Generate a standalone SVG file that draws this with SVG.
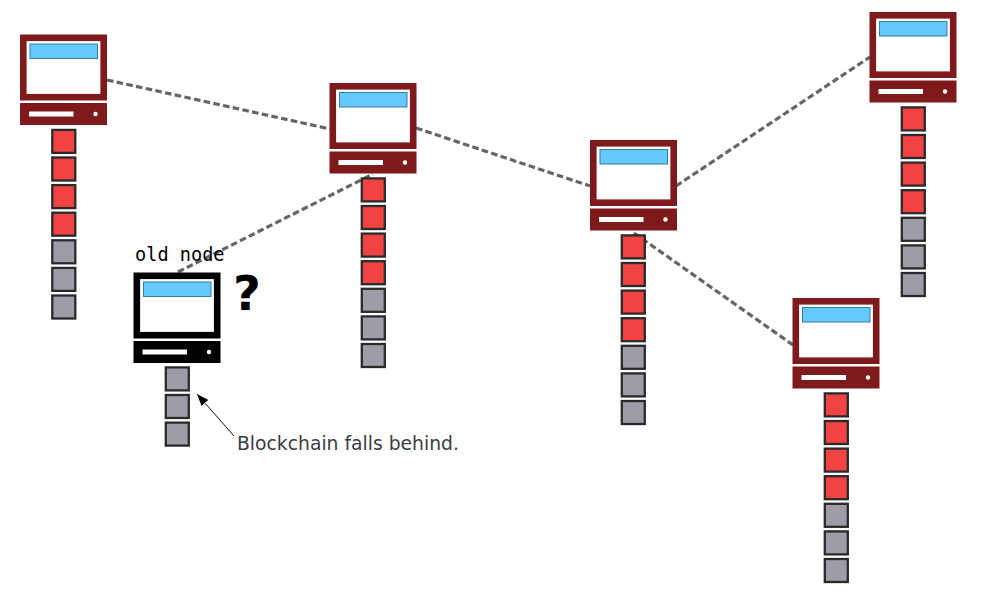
<svg xmlns="http://www.w3.org/2000/svg" xmlns:xlink="http://www.w3.org/1999/xlink" width="983" height="601" viewBox="0 0 983 601">
<style>
.frame{fill:#fff;stroke:currentColor;stroke-width:6.6}
.base{stroke:none;fill:currentColor}
.red{color:#7f1a1c}
.black{color:#000}
.screen{fill:#66c8ff;stroke:#2f7fa6;stroke-width:1}
.w{fill:#fff}
.r{fill:#f24343;stroke:#2a2a2a;stroke-width:2.3}
.g{fill:#9d9da8;stroke:#2a2a2a;stroke-width:2.3}
.link{fill:none;stroke:#666;stroke-width:3.2;stroke-dasharray:6.6 3.3}
</style>
<defs>
<g id="pc">
<rect class="frame" x="3.3" y="3.3" width="80.4" height="59.4"/>
<rect class="screen" x="10" y="9.5" width="67.5" height="14.5"/>
<rect class="base" x="0" y="68.5" width="87" height="22"/>
<rect class="w" x="9" y="77" width="44.5" height="5"/>
<circle class="w" cx="75.5" cy="79.5" r="2.2"/>
</g>
<rect id="rb" class="r" x="1.2" y="1.2" width="23" height="23"/>
<rect id="gb" class="g" x="1.2" y="1.2" width="23" height="23"/>
<g id="chain">
<use xlink:href="#rb" y="0"/><use xlink:href="#rb" y="27.6"/><use xlink:href="#rb" y="55.2"/><use xlink:href="#rb" y="82.8"/>
<use xlink:href="#gb" y="110.4"/><use xlink:href="#gb" y="138"/><use xlink:href="#gb" y="165.6"/>
</g>
<marker id="ah" markerWidth="14" markerHeight="10" refX="12" refY="4.5" orient="auto" markerUnits="userSpaceOnUse"><path d="M0 0L12 4.5L0 9Z" fill="#000"/></marker>
</defs>
<g id="connectors">
<path class="link" d="M107 80L330 129"/>
<path class="link" d="M416 128L590 186"/>
<path class="link" d="M676 186L870 57"/>
<path class="link" d="M634 233L793 345"/>
<path class="link" d="M178 272L373 174"/>
<path d="M234 436L197 394" fill="none" stroke="#111" stroke-width="1" marker-end="url(#ah)"/>
</g>
<g id="node1" class="red"><use xlink:href="#pc" x="20" y="34.5"/><use xlink:href="#chain" x="51.1" y="128.7"/></g>
<g id="node2" class="red"><use xlink:href="#pc" x="329.5" y="83"/><use xlink:href="#chain" x="360.6" y="177.2"/></g>
<g id="node3" class="red"><use xlink:href="#pc" x="590" y="140"/><use xlink:href="#chain" x="620.6" y="234.2"/></g>
<g id="node4" class="red"><use xlink:href="#pc" x="869.5" y="12"/><use xlink:href="#chain" x="900.6" y="106.2"/></g>
<g id="node5" class="red"><use xlink:href="#pc" x="792.5" y="298"/><use xlink:href="#chain" x="823.6" y="392.2"/></g>
<g id="oldnode" class="black"><use xlink:href="#pc" x="133.5" y="272.5"/>
<use xlink:href="#gb" x="164.6" y="366.2"/><use xlink:href="#gb" x="164.6" y="393.8"/><use xlink:href="#gb" x="164.6" y="421.4"/>
<text x="135" y="261" font-family="'DejaVu Sans Mono',monospace" font-size="18.6" fill="#000">old node</text>
<text x="233" y="310" font-family="'DejaVu Sans',sans-serif" font-weight="700" font-size="48" fill="#000">?</text>
</g>
<text id="note" x="237" y="449.5" font-family="'DejaVu Sans',sans-serif" font-size="18.75" fill="#3c3c44">Blockchain falls behind.</text>
</svg>
